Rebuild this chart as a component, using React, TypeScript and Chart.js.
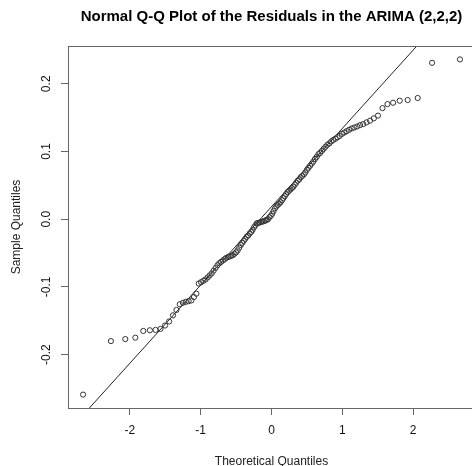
import React, { useEffect, useRef } from "react";
import { Chart, registerables } from "chart.js";

Chart.register(...registerables);

const chartTitle = "Normal Q-Q Plot of the Residuals in the ARIMA (2,2,2)";
const xAxisTitle = "Theoretical Quantiles";
const yAxisTitle = "Sample Quantiles";

// theoretical normal quantiles (x) of the 128 ordered residuals
const theoreticalQuantiles = [
  -2.66, -2.267, -2.064, -1.922, -1.81, -1.717, -1.637, -1.567, -1.503, -1.445,
  -1.391, -1.342, -1.295, -1.251, -1.21, -1.17, -1.132, -1.095, -1.06, -1.027,
  -0.994, -0.962, -0.932, -0.902, -0.873, -0.845, -0.817, -0.79, -0.763, -0.737,
  -0.712, -0.687, -0.662, -0.638, -0.614, -0.59, -0.567, -0.545, -0.522, -0.5,
  -0.478, -0.456, -0.434, -0.413, -0.392, -0.371, -0.35, -0.329, -0.308, -0.288,
  -0.268, -0.248, -0.227, -0.207, -0.187, -0.167, -0.148, -0.128, -0.108, -0.088,
  -0.069, -0.049, -0.029, -0.01,
  0.01, 0.029, 0.049, 0.069, 0.088, 0.108, 0.128, 0.148, 0.167, 0.187,
  0.207, 0.227, 0.248, 0.268, 0.288, 0.308, 0.329, 0.35, 0.371, 0.392,
  0.413, 0.434, 0.456, 0.478, 0.5, 0.522, 0.545, 0.567, 0.59, 0.614,
  0.638, 0.662, 0.687, 0.712, 0.737, 0.763, 0.79, 0.817, 0.845, 0.873,
  0.902, 0.932, 0.962, 0.994, 1.027, 1.06, 1.095, 1.132, 1.17, 1.21,
  1.251, 1.295, 1.342, 1.391, 1.445, 1.503, 1.567, 1.637, 1.717, 1.81,
  1.922, 2.064, 2.267, 2.66,
];

// ordered sample residuals (y)
const sampleQuantiles = [
  -0.259, -0.18, -0.177, -0.175, -0.165, -0.164, -0.1635, -0.162, -0.157, -0.151,
  -0.142, -0.134, -0.1255, -0.1235, -0.122, -0.121, -0.12, -0.115, -0.11, -0.095,
  -0.093, -0.091, -0.089, -0.086, -0.083, -0.08, -0.076, -0.072, -0.068, -0.065,
  -0.063, -0.061, -0.059, -0.057, -0.056, -0.055, -0.054, -0.053, -0.051, -0.049,
  -0.046, -0.042, -0.038, -0.035, -0.032, -0.029, -0.026, -0.024, -0.021, -0.019,
  -0.016, -0.012, -0.009, -0.006, -0.0055, -0.005, -0.004, -0.0035, -0.003, -0.002,
  -0.001, 0.0, 0.003, 0.005,
  0.008, 0.012, 0.016, 0.019, 0.021, 0.023, 0.025, 0.028, 0.031, 0.034,
  0.037, 0.04, 0.042, 0.044, 0.046, 0.048, 0.051, 0.054, 0.057, 0.059,
  0.062, 0.064, 0.066, 0.069, 0.073, 0.076, 0.079, 0.082, 0.085, 0.089,
  0.092, 0.096, 0.098, 0.101, 0.104, 0.107, 0.11, 0.112, 0.115, 0.117,
  0.119, 0.121, 0.123, 0.126, 0.128, 0.13, 0.132, 0.134, 0.1355, 0.137,
  0.139, 0.1405, 0.143, 0.1455, 0.149, 0.153, 0.164, 0.17, 0.172, 0.175,
  0.176, 0.179, 0.231, 0.236,
];

const FONT = "'Liberation Sans', Arial, Helvetica, sans-serif";

function quantile7(sorted: number[], p: number) {
  const h = (sorted.length - 1) * p;
  const lo = Math.floor(h);
  const hi = Math.min(sorted.length - 1, lo + 1);
  return sorted[lo] + (h - lo) * (sorted[hi] - sorted[lo]);
}

export default function App() {
  const canvasRef = useRef<HTMLCanvasElement | null>(null);

  useEffect(() => {
    const canvas = canvasRef.current;
    if (!canvas) return;

    // R's qqline: line through the first and third quartiles
    const q1 = quantile7(sampleQuantiles, 0.25);
    const q3 = quantile7(sampleQuantiles, 0.75);
    const z75 = 0.6744898;
    const slope = (q3 - q1) / (2 * z75);
    const intercept = q1 + z75 * slope;

    const xMinD = Math.min(...theoreticalQuantiles);
    const xMaxD = Math.max(...theoreticalQuantiles);
    const yMinD = Math.min(...sampleQuantiles);
    const yMaxD = Math.max(...sampleQuantiles);
    const xPad = (xMaxD - xMinD) * 0.04;
    const yPad = (yMaxD - yMinD) * 0.04;
    const xMin = xMinD - xPad;
    const xMax = xMaxD + xPad;

    const points = theoreticalQuantiles.map((x, i) => ({ x, y: sampleQuantiles[i] }));
    const lineX = [xMin - 1, xMax + 1];
    const linePts = lineX.map((x) => ({ x, y: intercept + slope * x }));

    const decor = {
      id: "decor",
      afterDraw(chart: any) {
        const { ctx, chartArea } = chart;
        ctx.save();
        ctx.strokeStyle = "#666";
        ctx.lineWidth = 1;
        ctx.strokeRect(
          Math.round(chartArea.left) + 0.5,
          Math.round(chartArea.top) + 0.5,
          Math.round(chartArea.right - chartArea.left),
          Math.round(chartArea.bottom - chartArea.top)
        );
        ctx.fillStyle = "#000";
        ctx.font = `bold 15px ${FONT}`;
        ctx.textAlign = "center";
        ctx.textBaseline = "middle";
        ctx.fillText(chartTitle, (chartArea.left + chartArea.right) / 2, 17);
        ctx.restore();
      },
    };

    const chart = new Chart(canvas, {
      type: "scatter",
      data: {
        datasets: [
          {
            type: "scatter",
            data: points,
            pointStyle: "circle",
            pointRadius: 2.6,
            pointBorderWidth: 1,
            pointBorderColor: "#333",
            pointBackgroundColor: "rgba(0,0,0,0)",
            showLine: false,
          } as any,
          {
            type: "line",
            data: linePts,
            borderColor: "#222",
            borderWidth: 1,
            pointRadius: 0,
            fill: false,
            tension: 0,
          } as any,
        ],
      },
      options: {
        responsive: false,
        animation: false,
        devicePixelRatio: 1,
        layout: { padding: { top: 46, right: 4, left: 0, bottom: 0 } },
        plugins: {
          legend: { display: false },
          title: { display: false },
          tooltip: { enabled: false },
        },
        scales: {
          x: {
            type: "linear",
            min: xMin,
            max: xMax,
            afterFit: (s: any) => {
              s.height = 62;
            },
            border: { display: false },
            grid: {
              display: true,
              drawOnChartArea: false,
              drawTicks: true,
              tickLength: 7,
              tickColor: "#666",
              tickWidth: 1,
            },
            ticks: {
              stepSize: 1,
              includeBounds: false,
              padding: 8,
              color: "#111",
              font: { family: FONT, size: 12 },
              maxRotation: 0,
              minRotation: 0,
              callback: (v: any) => String(Math.round(Number(v))),
            },
            title: {
              display: true,
              text: xAxisTitle,
              color: "#222",
              font: { family: FONT, size: 12 },
              padding: { top: 0, bottom: 1 },
            },
          },
          y: {
            type: "linear",
            min: yMinD - yPad,
            max: yMaxD + yPad,
            afterFit: (s: any) => {
              s.width = 68;
            },
            border: { display: false },
            grid: {
              display: true,
              drawOnChartArea: false,
              drawTicks: true,
              tickLength: 7,
              tickColor: "#666",
              tickWidth: 1,
            },
            ticks: {
              stepSize: 0.1,
              includeBounds: false,
              minRotation: 90,
              maxRotation: 90,
              crossAlign: "center",
              padding: 4,
              color: "#111",
              font: { family: FONT, size: 12 },
              callback: (v: any) => Number(v).toFixed(1),
            },
            title: {
              display: true,
              text: yAxisTitle,
              color: "#222",
              font: { family: FONT, size: 12 },
              padding: { top: 9, bottom: 0 },
            },
          },
        },
      } as any,
      plugins: [decor],
    });

    return () => {
      chart.destroy();
    };
  }, []);

  return (
    <div
      style={{
        position: "fixed",
        left: 0,
        top: 0,
        width: 472,
        height: 466,
        overflow: "hidden",
        background: "#fff",
      }}
    >
      <canvas
        ref={canvasRef}
        width={480}
        height={470}
        style={{ display: "block", width: 480, height: 470 }}
      />
    </div>
  );
}
